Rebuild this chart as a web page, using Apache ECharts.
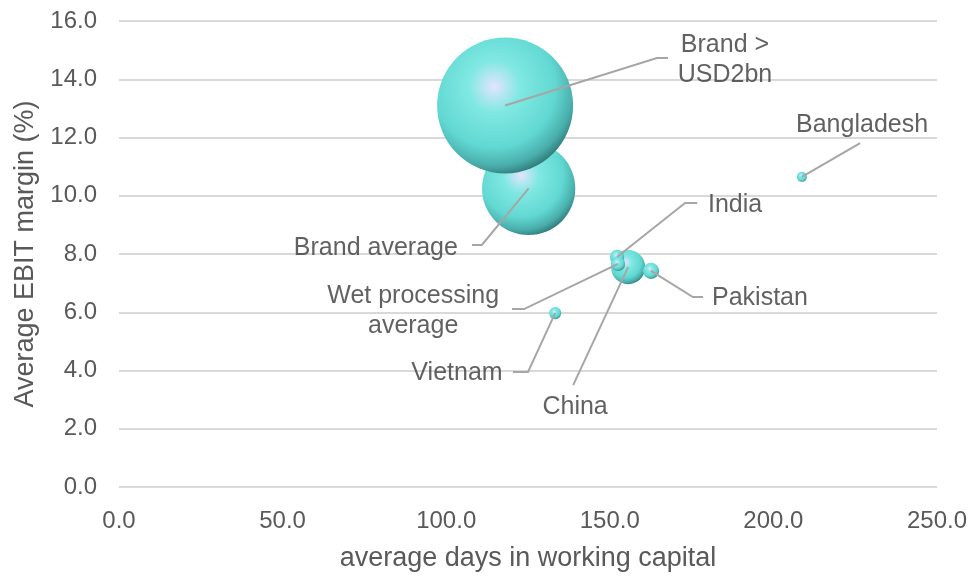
<!DOCTYPE html>
<html>
<head>
<meta charset="utf-8">
<script src="https://cdn.jsdelivr.net/npm/echarts@6/dist/echarts.min.js"></script>
<style>
  html, body { margin: 0; padding: 0; background: #fff; }
  #main { width: 973px; height: 577px; }
</style>
</head>
<body>
<div id="main"></div>
<script>
  // bubble data (draw order: later items on top)
  const names = ['Brand average', 'Brand > USD2bn', 'China', 'India', 'Wet processing average', 'Pakistan', 'Vietnam', 'Bangladesh']
  const labelText = ['Brand average', 'Brand >\nUSD2bn', 'China', 'India', 'Wet processing\naverage', 'Pakistan', 'Vietnam', 'Bangladesh']
  const days = [125.2, 118.0, 155.6, 152.2, 152.5, 162.6, 133.3, 208.7]
  const ebit = [10.25, 13.1, 7.55, 7.9, 7.66, 7.42, 5.97, 10.65]
  const sizes = [47, 100, 6.3, 1.1, 1.1, 1.4, 0.8, 0.55]

  // label layout (axis units) - where each callout text sits
  const labelPos = [[78.5, 8.2], [185.2, 14.66], [139.4, 2.75], [188.3, 9.68], [89.9, 6.04], [195.9, 6.49], [103.3, 3.91], [227.1, 12.43]]
  // leader line bends, from the label side toward the bubble
  const leaderBends = [
    [[107.9, 8.31], [110.9, 8.31]],
    [[167.8, 14.73], [164.4, 14.73]],
    [[138.8, 3.5]],
    [[176.7, 9.75], [173.0, 9.75]],
    [[120.1, 6.11], [123.8, 6.11]],
    [[178.5, 6.52], [175.4, 6.52]],
    [[120.4, 3.95], [125.0, 3.95]],
    [[226.5, 11.81]]
  ]

  const FONT = "'Liberation Sans', Arial, sans-serif"
  const maxDiam = 136

  const bubbleData = names.map((n, i) => ({ name: n, value: [days[i], ebit[i], sizes[i]] }))
  const leaderData = names.map((n, i) => ({ coords: leaderBends[i].concat([[days[i], ebit[i]]]) }))
  const labelData = names.map((n, i) => ({ name: labelText[i], value: labelPos[i] }))

  // 3d-ish ball shading like the excel bubbles
  const ballColor = {
    type: 'radial', x: 0.42, y: 0.36, r: 0.68,
    colorStops: [
      { offset: 0, color: '#e2e4ff' },
      { offset: 0.28, color: '#80e8e2' },
      { offset: 0.66, color: '#62d8d2' },
      { offset: 0.86, color: '#49aeab' },
      { offset: 1, color: '#2a6f6e' }
    ]
  }

  const myChart = echarts.init(document.getElementById('main'))

  const option = {
    animation: false,
    backgroundColor: '#fff',
    grid: { left: 119, right: 36, top: 21, bottom: 90 },
    xAxis: {
      type: 'value',
      min: 0, max: 250, interval: 50,
      name: 'average days in working capital',
      nameLocation: 'middle',
      nameGap: 58,
      nameTextStyle: { fontFamily: FONT, fontSize: 27, color: '#595959' },
      axisLine: { show: false },
      axisTick: { show: false },
      splitLine: { show: false },
      axisLabel: {
        margin: 22,
        fontFamily: FONT, fontSize: 24, color: '#595959',
        formatter: v => v.toFixed(1)
      }
    },
    yAxis: {
      type: 'value',
      min: 0, max: 16, interval: 2,
      name: 'Average EBIT margin (%)',
      nameLocation: 'middle',
      nameRotate: 90,
      nameGap: 76,
      nameTextStyle: { fontFamily: FONT, fontSize: 27, color: '#595959' },
      axisLine: { show: false },
      axisTick: { show: false },
      splitLine: { lineStyle: { color: '#d9d9d9', width: 2 } },
      axisLabel: {
        margin: 22,
        fontFamily: FONT, fontSize: 24, color: '#595959',
        formatter: v => v.toFixed(1)
      }
    },
    series: [
      {
        type: 'scatter',
        z: 2,
        silent: true,
        data: bubbleData,
        symbolSize: val => maxDiam * Math.sqrt(val[2] / 100),
        itemStyle: { color: ballColor, opacity: 1 }
      },
      {
        type: 'lines',
        coordinateSystem: 'cartesian2d',
        polyline: true,
        z: 3,
        silent: true,
        data: leaderData,
        lineStyle: { color: '#a6a6a6', width: 2, opacity: 1 }
      },
      {
        type: 'scatter',
        z: 4,
        silent: true,
        data: labelData,
        symbolSize: 1,
        itemStyle: { color: 'transparent' },
        label: {
          show: true,
          position: 'inside',
          formatter: p => p.name,
          fontFamily: FONT, fontSize: 25, color: '#3a3a3a',
          lineHeight: 30, align: 'center'
        }
      }
    ]
  }

  option && myChart.setOption(option)
</script>
</body>
</html>
